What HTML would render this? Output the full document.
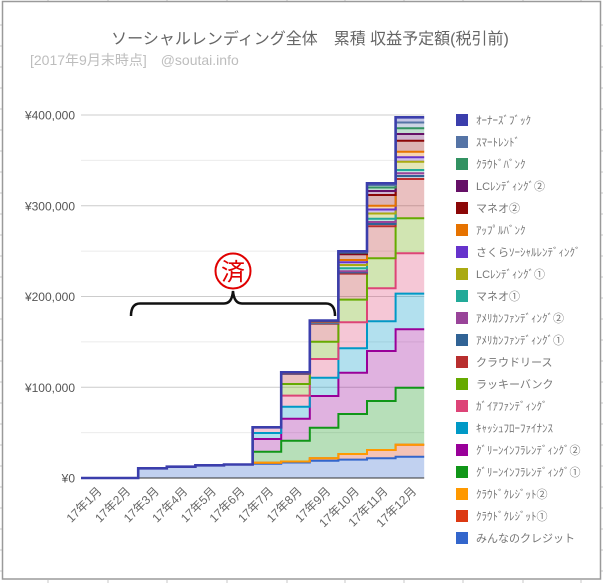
<!DOCTYPE html>
<html><head><meta charset="utf-8"><style>
html,body{margin:0;padding:0;background:#fff;width:603px;height:583px;overflow:hidden}
svg{display:block}
text{font-family:"Liberation Sans","Noto Sans CJK JP",sans-serif}
</style></head><body>
<svg width="603" height="583" viewBox="0 0 603 583" xmlns="http://www.w3.org/2000/svg">
<rect x="0" y="0" width="603" height="583" fill="#fff"/>
<!-- spreadsheet ticks outside frame -->
<g stroke="#c8c8c8" stroke-width="1">
<path d="M48,0V1.5M108,0V1.5M167,0V1.5M227,0V1.5M287,0V1.5M345,0V1.5M404,0V1.5M463,0V1.5M523,0V1.5M581,0V1.5"/>
<path d="M48,580V583M108,580V583M167,580V583M227,580V583M287,580V583M345,580V583M404,580V583M463,580V583M523,580V583M581,580V583"/>
<path d="M0,25H2M0,46H2M0,67H2M0,88H2M0,109H2M0,130H2M0,151H2M0,172H2M0,193H2M0,214H2M0,235H2M0,256H2M0,277H2M0,298H2M0,319H2M0,340H2M0,361H2M0,382H2M0,403H2M0,424H2M0,445H2M0,466H2M0,487H2M0,508H2M0,529H2M0,550H2M0,571H2"/>
<path d="M601,25H603M601,46H603M601,67H603M601,88H603M601,109H603M601,130H603M601,151H603M601,172H603M601,193H603M601,214H603M601,235H603M601,256H603M601,277H603M601,298H603M601,319H603M601,340H603M601,361H603M601,382H603M601,403H603M601,424H603M601,445H603M601,466H603M601,487H603M601,508H603M601,529H603M601,550H603M601,571H603"/>
</g>
<rect x="2.5" y="1.5" width="598" height="577.5" fill="#fff" stroke="#9a9a9a" stroke-width="1.5"/>

<!-- title -->
<text x="310" y="44" font-size="16" fill="#666" text-anchor="middle">ソーシャルレンディング全体　累積 収益予定額(税引前)</text>
<text x="30" y="65" font-size="14" fill="#bdbdbd">[2017年9月末時点]　@soutai.info</text>

<!-- gridlines -->
<g stroke-width="1">
<path d="M81,160.4H424.2M81,251.1H424.2M81,341.9H424.2M81,432.6H424.2" stroke="#ebebeb"/>
<path d="M81,115H424.2M81,205.75H424.2M81,296.5H424.2M81,387.25H424.2" stroke="#cccccc"/>
</g>

<!-- y labels -->
<g font-size="12" fill="#555" text-anchor="end">
<text x="75" y="119.5">¥400,000</text>
<text x="75" y="210.5">¥300,000</text>
<text x="75" y="301">¥200,000</text>
<text x="75" y="392">¥100,000</text>
<text x="75" y="482.5">¥0</text>
</g>

<!-- fills -->
<g fill-opacity="0.3" stroke="none">
<path fill="#3366cc" d="M81,478H138.2V468.3H166.8V466.7H195.4V465.3H224V464.5H252.6V463.8H281.2V462.5H309.8V460.8H338.4V459.6H367V458.3H395.6V456.7H424.2V478Z"/>
<path fill="#dc3912" d="M252.6,464.5V462.8H281.2V461.5H309.8V458.3H338.4V454H367V450H395.6V444.7H424.2V456.7H395.6V458.3H367V459.6H338.4V460.8H309.8V462.5H281.2V463.8H252.6Z"/>
<path fill="#109618" d="M252.6,464.5V451.8H281.2V440.8H309.8V427.8H338.4V414H367V401H395.6V387.7H424.2V444.7H395.6V450H367V454H338.4V458.3H309.8V461.5H281.2V462.8H252.6Z"/>
<path fill="#990099" d="M252.6,464.5V439H281.2V418.8H309.8V396H338.4V372.7H367V351H395.6V329.3H424.2V387.7H395.6V401H367V414H338.4V427.8H309.8V440.8H281.2V451.8H252.6Z"/>
<path fill="#0099c6" d="M252.6,464.5V433H281.2V406.8H309.8V377.7H338.4V348.3H367V321.3H395.6V293.6H424.2V329.3H395.6V351H367V372.7H338.4V396H309.8V418.8H281.2V439H252.6Z"/>
<path fill="#dd4477" d="M252.6,464.5V427.3H281.2V395.6H309.8V359H338.4V322.3H367V288.3H395.6V253.3H424.2V293.6H395.6V321.3H367V348.3H338.4V377.7H309.8V406.8H281.2V433H252.6Z"/>
<path fill="#66aa00" d="M252.6,464.5V427.3H281.2V384H309.8V341.7H338.4V299.6H367V258.3H395.6V218.3H424.2V253.3H395.6V288.3H367V322.3H338.4V359H309.8V395.6H281.2V427.3H252.6Z"/>
<path fill="#b82e2e" d="M252.6,464.5V427.3H281.2V374H309.8V323.8H338.4V273.6H367V226.3H395.6V179H424.2V218.3H395.6V258.3H367V299.6H338.4V341.7H309.8V384H281.2V427.3H252.6Z"/>
<path fill="#316395" d="M252.6,464.5V427.3H281.2V373.7H309.8V323.3H338.4V272.4H367V224H395.6V176H424.2V179H395.6V226.3H367V273.6H338.4V323.8H309.8V374H281.2V427.3H252.6Z"/>
<path fill="#994499" d="M252.6,464.5V427.3H281.2V373.4H309.8V322.8H338.4V271.3H367V222H395.6V173.3H424.2V176H395.6V224H367V272.4H338.4V323.3H309.8V373.7H281.2V427.3H252.6Z"/>
<path fill="#22aa99" d="M252.6,464.5V427.3H281.2V373.1H309.8V322.4H338.4V268.3H367V218.7H395.6V170H424.2V173.3H395.6V222H367V271.3H338.4V322.8H309.8V373.4H281.2V427.3H252.6Z"/>
<path fill="#aaaa11" d="M252.6,464.5V427.3H281.2V372.9H309.8V322H338.4V265H367V213.5H395.6V161.7H424.2V170H395.6V218.7H367V268.3H338.4V322.4H309.8V373.1H281.2V427.3H252.6Z"/>
<path fill="#6633cc" d="M252.6,464.5V427.3H281.2V372.8H309.8V321.7H338.4V262.3H367V209.5H395.6V157.3H424.2V161.7H395.6V213.5H367V265H338.4V322H309.8V372.9H281.2V427.3H252.6Z"/>
<path fill="#e67300" d="M252.6,464.5V427.3H281.2V372.7H309.8V321.4H338.4V260H367V205.7H395.6V151.7H424.2V157.3H395.6V209.5H367V262.3H338.4V321.7H309.8V372.8H281.2V427.3H252.6Z"/>
<path fill="#8b0707" d="M252.6,464.5V427.3H281.2V372.6H309.8V321.1H338.4V254.3H367V195H395.6V140.7H424.2V151.7H395.6V205.7H367V260H338.4V321.4H309.8V372.7H281.2V427.3H252.6Z"/>
<path fill="#651067" d="M252.6,464.5V427.3H281.2V372.5H309.8V320.9H338.4V253.3H367V191H395.6V134H424.2V140.7H395.6V195H367V254.3H338.4V321.1H309.8V372.6H281.2V427.3H252.6Z"/>
<path fill="#329262" d="M252.6,464.5V427.3H281.2V372.4H309.8V320.7H338.4V252.5H367V187.5H395.6V128.3H424.2V134H395.6V191H367V253.3H338.4V320.9H309.8V372.5H281.2V427.3H252.6Z"/>
<path fill="#5574a6" d="M252.6,464.5V427.3H281.2V372.3H309.8V320.5H338.4V252H367V185H395.6V122.5H424.2V128.3H395.6V187.5H367V252.5H338.4V320.7H309.8V372.4H281.2V427.3H252.6Z"/>
<path fill="#3b3eac" d="M252.6,464.5V427.3H281.2V372.3H309.8V320.5H338.4V251.3H367V183.3H395.6V117.3H424.2V122.5H395.6V185H367V252H338.4V320.5H309.8V372.3H281.2V427.3H252.6Z"/>
</g>

<!-- baseline -->
<path d="M81,478H424.2" stroke="#333" stroke-width="1"/>

<!-- lines -->
<g fill="none" stroke-width="2">
<path stroke="#3366cc" d="M81,478H138.2V468.3H166.8V466.7H195.4V465.3H224V464.5H252.6V463.8H281.2V462.5H309.8V460.8H338.4V459.6H367V458.3H395.6V456.7H424.2"/>
<path stroke="#dc3912" d="M252.6,464.5V462.8H281.2V461.5H309.8V458.3H338.4V454H367V450H395.6V444.7H424.2"/>
<path stroke="#ff9900" d="M252.6,464.5V462.8H281.2V461.5H309.8V458.3H338.4V454H367V450H395.6V444.7H424.2"/>
<path stroke="#109618" d="M252.6,464.5V451.8H281.2V440.8H309.8V427.8H338.4V414H367V401H395.6V387.7H424.2"/>
<path stroke="#990099" d="M252.6,464.5V439H281.2V418.8H309.8V396H338.4V372.7H367V351H395.6V329.3H424.2"/>
<path stroke="#0099c6" d="M252.6,464.5V433H281.2V406.8H309.8V377.7H338.4V348.3H367V321.3H395.6V293.6H424.2"/>
<path stroke="#dd4477" d="M252.6,464.5V427.3H281.2V395.6H309.8V359H338.4V322.3H367V288.3H395.6V253.3H424.2"/>
<path stroke="#66aa00" d="M252.6,464.5V427.3H281.2V384H309.8V341.7H338.4V299.6H367V258.3H395.6V218.3H424.2"/>
<path stroke="#b82e2e" d="M252.6,464.5V427.3H281.2V374H309.8V323.8H338.4V273.6H367V226.3H395.6V179H424.2"/>
<path stroke="#316395" d="M252.6,464.5V427.3H281.2V373.7H309.8V323.3H338.4V272.4H367V224H395.6V176H424.2"/>
<path stroke="#994499" d="M252.6,464.5V427.3H281.2V373.4H309.8V322.8H338.4V271.3H367V222H395.6V173.3H424.2"/>
<path stroke="#22aa99" d="M252.6,464.5V427.3H281.2V373.1H309.8V322.4H338.4V268.3H367V218.7H395.6V170H424.2"/>
<path stroke="#aaaa11" d="M252.6,464.5V427.3H281.2V372.9H309.8V322H338.4V265H367V213.5H395.6V161.7H424.2"/>
<path stroke="#6633cc" d="M252.6,464.5V427.3H281.2V372.8H309.8V321.7H338.4V262.3H367V209.5H395.6V157.3H424.2"/>
<path stroke="#e67300" d="M252.6,464.5V427.3H281.2V372.7H309.8V321.4H338.4V260H367V205.7H395.6V151.7H424.2"/>
<path stroke="#8b0707" d="M252.6,464.5V427.3H281.2V372.6H309.8V321.1H338.4V254.3H367V195H395.6V140.7H424.2"/>
<path stroke="#651067" d="M252.6,464.5V427.3H281.2V372.5H309.8V320.9H338.4V253.3H367V191H395.6V134H424.2"/>
<path stroke="#329262" d="M252.6,464.5V427.3H281.2V372.4H309.8V320.7H338.4V252.5H367V187.5H395.6V128.3H424.2"/>
<path stroke="#5574a6" d="M252.6,464.5V427.3H281.2V372.3H309.8V320.5H338.4V252H367V185H395.6V122.5H424.2"/>
<path stroke="#3b3eac" stroke-width="2.6" d="M81,478H138.2V468.3H166.8V466.7H195.4V465.3H224V464.5H252.6V427.3H281.2V372.3H309.8V320.5H338.4V251.3H367V183.3H395.6V117.3H424.2"/>
</g>

<!-- x labels -->
<g font-size="12" fill="#666" text-anchor="end">
<text transform="translate(102.5,492) rotate(-45)">17年1月</text>
<text transform="translate(131.1,492) rotate(-45)">17年2月</text>
<text transform="translate(159.7,492) rotate(-45)">17年3月</text>
<text transform="translate(188.3,492) rotate(-45)">17年4月</text>
<text transform="translate(216.9,492) rotate(-45)">17年5月</text>
<text transform="translate(245.5,492) rotate(-45)">17年6月</text>
<text transform="translate(274.1,492) rotate(-45)">17年7月</text>
<text transform="translate(302.7,492) rotate(-45)">17年8月</text>
<text transform="translate(331.3,492) rotate(-45)">17年9月</text>
<text transform="translate(359.9,492) rotate(-45)">17年10月</text>
<text transform="translate(388.5,492) rotate(-45)">17年11月</text>
<text transform="translate(417.1,492) rotate(-45)">17年12月</text>
</g>

<!-- brace + stamp -->
<path d="M131,316Q131,303.5 140,303.5L224,303.5Q232,303.5 233,291Q234,303.5 242,303.5L326,303.5Q335,303.5 335,316" fill="none" stroke="#111" stroke-width="2.5"/>
<circle cx="233" cy="271" r="17.5" fill="#fff" stroke="#e00000" stroke-width="2"/>
<text x="233" y="280" font-size="24" fill="#e00000" text-anchor="middle" font-family="'Noto Sans CJK JP',sans-serif">済</text>

<!-- legend -->
<g>
<rect x="456" y="114" width="12" height="12" fill="#3b3eac"/>
<rect x="456" y="136" width="12" height="12" fill="#5574a6"/>
<rect x="456" y="158" width="12" height="12" fill="#329262"/>
<rect x="456" y="180" width="12" height="12" fill="#651067"/>
<rect x="456" y="202" width="12" height="12" fill="#8b0707"/>
<rect x="456" y="224" width="12" height="12" fill="#e67300"/>
<rect x="456" y="246" width="12" height="12" fill="#6633cc"/>
<rect x="456" y="268" width="12" height="12" fill="#aaaa11"/>
<rect x="456" y="290" width="12" height="12" fill="#22aa99"/>
<rect x="456" y="312" width="12" height="12" fill="#994499"/>
<rect x="456" y="334" width="12" height="12" fill="#316395"/>
<rect x="456" y="356" width="12" height="12" fill="#b82e2e"/>
<rect x="456" y="378" width="12" height="12" fill="#66aa00"/>
<rect x="456" y="400" width="12" height="12" fill="#dd4477"/>
<rect x="456" y="422" width="12" height="12" fill="#0099c6"/>
<rect x="456" y="444" width="12" height="12" fill="#990099"/>
<rect x="456" y="466" width="12" height="12" fill="#109618"/>
<rect x="456" y="488" width="12" height="12" fill="#ff9900"/>
<rect x="456" y="510" width="12" height="12" fill="#dc3912"/>
<rect x="456" y="532" width="12" height="12" fill="#3366cc"/>
</g>
<g font-size="11" fill="#777">
<text x="476" y="124">ｵｰﾅｰｽﾞﾌﾞｯｸ</text>
<text x="476" y="146">ｽﾏｰﾄﾚﾝﾄﾞ</text>
<text x="476" y="168">ｸﾗｳﾄﾞﾊﾞﾝｸ</text>
<text x="476" y="190">LCﾚﾝﾃﾞｨﾝｸﾞ②</text>
<text x="476" y="212">マネオ②</text>
<text x="476" y="234">ｱｯﾌﾟﾙﾊﾞﾝｸ</text>
<text x="476" y="256">さくらｿｰｼｬﾙﾚﾝﾃﾞｨﾝｸﾞ</text>
<text x="476" y="278">LCﾚﾝﾃﾞｨﾝｸﾞ①</text>
<text x="476" y="300">マネオ①</text>
<text x="476" y="322">ｱﾒﾘｶﾝﾌｧﾝﾃﾞｨﾝｸﾞ②</text>
<text x="476" y="344">ｱﾒﾘｶﾝﾌｧﾝﾃﾞｨﾝｸﾞ①</text>
<text x="476" y="366">クラウドリース</text>
<text x="476" y="388">ラッキーバンク</text>
<text x="476" y="410">ｶﾞｲｱﾌｧﾝﾃﾞｨﾝｸﾞ</text>
<text x="476" y="432">ｷｬｯｼｭﾌﾛｰﾌｧｲﾅﾝｽ</text>
<text x="476" y="454">ｸﾞﾘｰﾝｲﾝﾌﾗﾚﾝﾃﾞｨﾝｸﾞ②</text>
<text x="476" y="476">ｸﾞﾘｰﾝｲﾝﾌﾗﾚﾝﾃﾞｨﾝｸﾞ①</text>
<text x="476" y="498">ｸﾗｳﾄﾞｸﾚｼﾞｯﾄ②</text>
<text x="476" y="520">ｸﾗｳﾄﾞｸﾚｼﾞｯﾄ①</text>
<text x="476" y="542">みんなのクレジット</text>
</g>
</svg>
</body></html>
